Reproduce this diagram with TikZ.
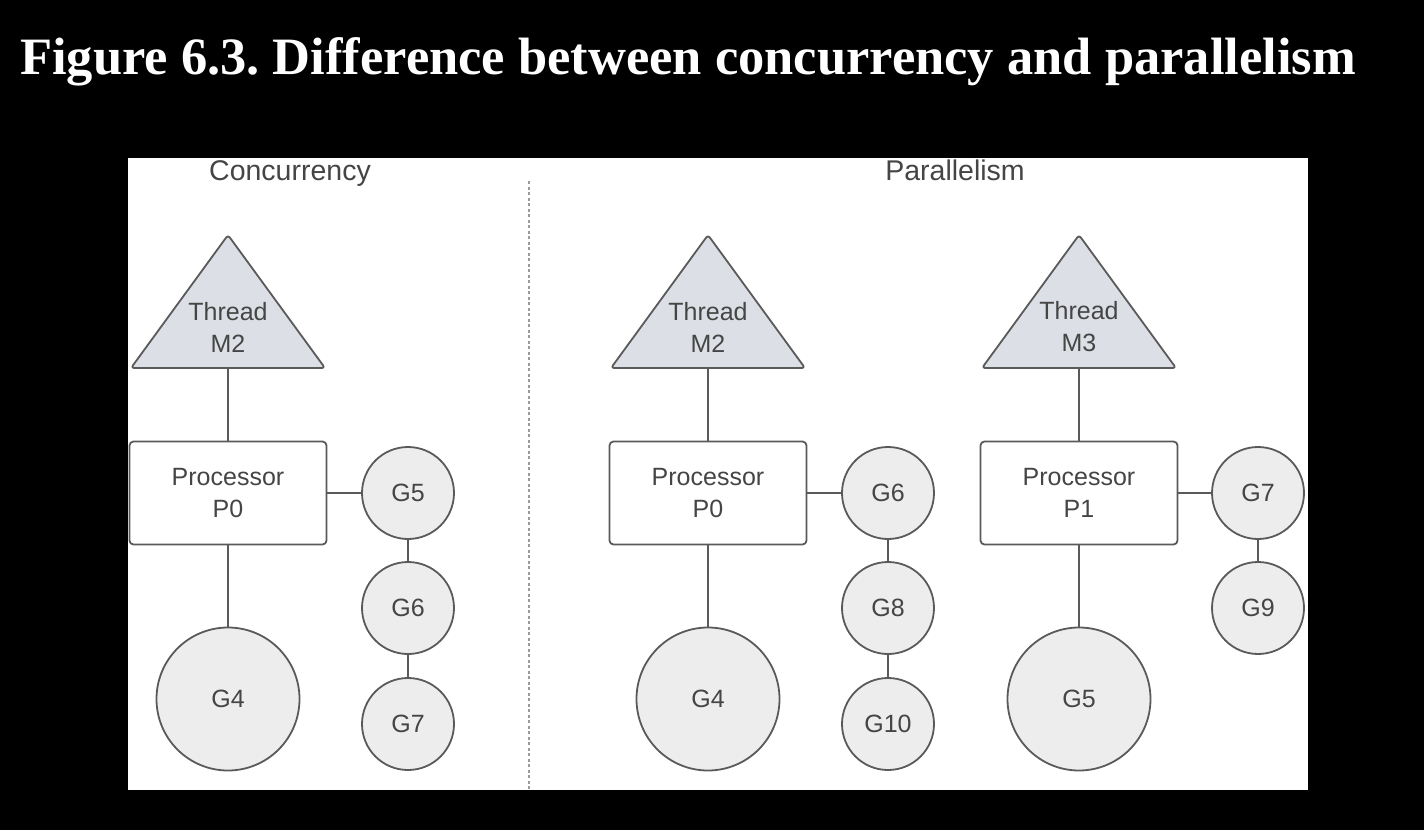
\documentclass[tikz,border=0pt]{standalone}
\usepackage{fontspec}
\setmainfont{Liberation Serif}
\setsansfont{Liberation Sans}
\definecolor{linec}{HTML}{5A5A5A}
\definecolor{txtc}{HTML}{454545}
\definecolor{gfill}{HTML}{EDEDED}
\definecolor{trifill}{HTML}{DCDFE5}
\definecolor{sepc}{HTML}{9A9A9A}
\frenchspacing
\begin{document}
\begin{tikzpicture}[x=1pt,y=-1pt,
  nodefont/.style={font=\sffamily\fontsize{25}{32}\selectfont, text=txtc},
  headfont/.style={font=\sffamily\fontsize{28.5}{34}\selectfont, text=txtc},
  proc/.style={nodefont, draw=linec, line width=1.8pt, rounded corners=4pt, fill=white,
    minimum width=197pt, minimum height=103pt, align=center, inner sep=0pt},
  gsmall/.style={nodefont, circle, draw=linec, line width=1.8pt, fill=gfill, minimum size=92pt, inner sep=0pt},
  gbig/.style={nodefont, circle, draw=linec, line width=1.8pt, fill=gfill, minimum size=143pt, inner sep=0pt},
  tri/.style={draw=linec, line width=1.8pt, fill=trifill, rounded corners=3pt, line join=round},
  tritext/.style={nodefont, align=center, inner sep=0pt},
  link/.style={draw=linec, line width=1.8pt},
  sepline/.style={draw=sepc, line width=2pt, dash pattern=on 3pt off 2.5pt}
]
\fill[black] (0,0) rectangle (1424,830);
\useasboundingbox (0,0) rectangle (1424,830);
\node[anchor=base west, text=white, font=\bfseries\fontsize{52.5}{60}\selectfont, inner sep=0pt] (title) at (20,74) {Figure 6.3. Difference between concurrency and parallelism};
\node[fill=white, anchor=north west, minimum width=1180pt, minimum height=632pt, inner sep=0pt] (panel) at (128,158) {};

\node[headfont, anchor=base, inner sep=0pt] (conc) at (290,180) {Concurrency};
\node[headfont, anchor=base, inner sep=0pt] (para) at (955,180) {Parallelism};

\coordinate (dtop) at (529,181);
\coordinate (dbot) at (529,790);
\draw[sepline] (dtop) -- (dbot);

% Concurrency group
\draw[tri] (228,235) -- (325,368) -- (131,368) -- cycle;
\node[tritext] (m2a) at (228,327) {Thread\\M2};
\coordinate (tba) at (228,368);
\node[proc] (p0a) at (228,493) {Processor\\P0};
\node[gsmall] (g5a) at (408,493) {G5};
\node[gsmall] (g6a) at (408,608) {G6};
\node[gsmall] (g7a) at (408,724) {G7};
\node[gbig] (g4a) at (228,699) {G4};
\draw[link] (tba) -- (p0a.north);
\draw[link] (p0a.east) -- (g5a.west);
\draw[link] (g5a.south) -- (g6a.north);
\draw[link] (g6a.south) -- (g7a.north);
\draw[link] (p0a.south) -- (g4a.north);

% Parallelism group 1
\draw[tri] (708,235) -- (805,368) -- (611,368) -- cycle;
\node[tritext] (m2b) at (708,327) {Thread\\M2};
\coordinate (tbb) at (708,368);
\node[proc] (p0b) at (708,493) {Processor\\P0};
\node[gsmall] (g6b) at (888,493) {G6};
\node[gsmall] (g8b) at (888,608) {G8};
\node[gsmall] (g10b) at (888,724) {G10};
\node[gbig] (g4b) at (708,699) {G4};
\draw[link] (tbb) -- (p0b.north);
\draw[link] (p0b.east) -- (g6b.west);
\draw[link] (g6b.south) -- (g8b.north);
\draw[link] (g8b.south) -- (g10b.north);
\draw[link] (p0b.south) -- (g4b.north);

% Parallelism group 2
\draw[tri] (1079,235) -- (1176,368) -- (982,368) -- cycle;
\node[tritext] (m3c) at (1079,327) {Thread\\M3};
\coordinate (tbc) at (1079,368);
\node[proc] (p1c) at (1079,493) {Processor\\P1};
\node[gsmall] (g7c) at (1258,493) {G7};
\node[gsmall] (g9c) at (1258,608) {G9};
\node[gbig] (g5c) at (1079,699) {G5};
\draw[link] (tbc) -- (p1c.north);
\draw[link] (p1c.east) -- (g7c.west);
\draw[link] (g7c.south) -- (g9c.north);
\draw[link] (p1c.south) -- (g5c.north);
\end{tikzpicture}
\end{document}
